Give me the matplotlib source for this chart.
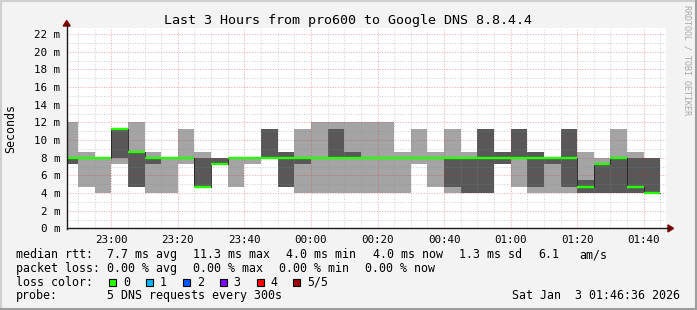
import matplotlib
matplotlib.use("Agg")
import matplotlib.pyplot as plt
from matplotlib.patches import Rectangle, Polygon
from matplotlib.lines import Line2D
from matplotlib.ticker import MultipleLocator

# ---------------- data ----------------
bin_times = ["22:45", "22:50", "22:55", "23:00", "23:05", "23:10", "23:15", "23:20", "23:25",
             "23:30", "23:35", "23:40", "23:45", "23:50", "23:55", "00:00", "00:05", "00:10",
             "00:15", "00:20", "00:25", "00:30", "00:35", "00:40", "00:45", "00:50", "00:55",
             "01:00", "01:05", "01:10", "01:15", "01:20", "01:25", "01:30", "01:35", "01:40"]
# sorted DNS rtt samples per 5 min step (ms)
ping1 = [7.3, 4.7, 4.0, 7.3, 4.7, 4.0, 4.0, 7.3, 4.7, 7.3, 4.7, 7.3, 8.0, 4.7, 4.0, 4.0, 4.0, 4.0,
         4.0, 4.0, 4.0, 7.3, 4.7, 4.0, 4.0, 4.0, 7.3, 4.7, 4.0, 4.0, 4.0, 4.0, 4.0, 4.0, 4.0, 4.0]
ping2 = [7.3, 8.0, 8.0, 8.0, 4.7, 7.3, 8.0, 8.0, 4.7, 7.3, 8.0, 8.0, 8.0, 4.7, 7.3, 8.0, 8.0, 8.0,
         8.0, 8.0, 8.0, 8.0, 8.0, 4.7, 4.0, 4.0, 7.3, 8.0, 4.7, 7.3, 4.7, 4.0, 4.0, 4.0, 4.0, 4.0]
ping3 = [8.0, 8.0, 8.0, 11.3, 8.7, 8.0, 8.0, 8.0, 4.7, 7.3, 8.0, 8.0, 8.0, 8.0, 8.0, 8.0, 8.0, 8.0,
         8.0, 8.0, 8.0, 8.0, 8.0, 8.0, 8.0, 8.0, 8.0, 8.0, 8.0, 8.0, 8.0, 4.7, 7.3, 8.0, 4.7, 4.0]
ping4 = [8.0, 8.0, 8.0, 11.3, 8.7, 8.0, 8.0, 8.0, 8.0, 8.0, 8.0, 8.0, 11.3, 8.7, 8.0, 8.0, 11.3, 8.7,
         8.0, 8.0, 8.0, 8.0, 8.0, 8.0, 8.0, 11.3, 8.7, 11.3, 8.7, 8.0, 11.3, 5.5, 7.3, 8.0, 8.0, 8.0]
ping5 = [12.0, 8.7, 8.0, 11.3, 12.0, 8.7, 8.0, 11.3, 8.7, 8.0, 8.0, 8.0, 11.3, 8.7, 11.3, 12.0, 12.0, 12.0,
         12.0, 12.0, 8.7, 11.3, 8.7, 11.3, 8.7, 11.3, 8.7, 11.3, 8.7, 8.0, 11.3, 8.7, 8.0, 11.3, 8.7, 8.0]

x_tick_labels = ["23:00", "23:20", "23:40", "00:00", "00:20", "00:40", "01:00", "01:20", "01:40"]
y_tick_values = [0, 2, 4, 6, 8, 10, 12, 14, 16, 18, 20, 22]

title = "Last 3 Hours from pro600 to Google DNS 8.8.4.4"
loss_labels = ["0", "1", "2", "3", "4", "5/5"]
loss_colors = ["#26ff00", "#00b8ff", "#0059ff", "#7e00ff", "#ff0000", "#a10000"]
rtt_stats = ["7.7 ms avg", "11.3 ms max", "4.0 ms min", "4.0 ms now", "1.3 ms sd", "6.1", "am/s"]
loss_stats = ["0.00 % avg", "0.00 % max", "0.00 % min", "0.00 % now"]
probe_text = "5 DNS requests every 300s"
stamp = "Sat Jan  3 01:46:36 2026"
step_min = 5
end_min = 106.6  # 01:46:36
span_min = 180

# ---------------- helpers ----------------
W, H = 697, 310
FONT = "DejaVu Sans Mono"
plt.rcParams["font.family"] = FONT


def tmin(s):
    h, m = map(int, s.split(":"))
    v = h * 60 + m
    return v - 1440 if h >= 12 else v


def fx(x):
    return x / W


def fy(y):
    return 1 - y / H


fig = plt.figure(figsize=(W / 100, H / 100), dpi=100, facecolor="#f3f3f3")

# frame shading
fig.add_artist(Line2D([0, 1], [fy(0.5), fy(0.5)], color="#cfcfcf", lw=1.5, transform=fig.transFigure))
fig.add_artist(Line2D([fx(0.5), fx(0.5)], [0, 1], color="#cfcfcf", lw=1.5, transform=fig.transFigure))
fig.add_artist(Line2D([0, 1], [fy(309), fy(309)], color="#9e9e9e", lw=1.5, transform=fig.transFigure))
fig.add_artist(Line2D([fx(696), fx(696)], [0, 1], color="#9e9e9e", lw=1.5, transform=fig.transFigure))

L, R, T, B = 66.7, 665.7, 28.0, 228.4
ax = fig.add_axes([fx(L), fy(B), (R - L) / W, (B - T) / H])
ax.set_facecolor("white")
for s in ax.spines.values():
    s.set_visible(False)

starts = [tmin(t) for t in bin_times]
edges = starts + [starts[-1] + step_min]


def ext(a):
    return list(a) + [a[-1]]


ax.fill_between(edges, ext(ping1), ext(ping5), step="post", color="#a4a4a4", lw=0, zorder=1)
ax.fill_between(edges, ext(ping2), ext(ping4), step="post", color="#585858", lw=0, zorder=2)
ax.step(edges, ext(ping3), where="post", color="#202020", lw=0.6, zorder=3)
ax.hlines(ping3, starts, [s + step_min for s in starts], color=loss_colors[0], lw=1.7, zorder=4)

ax.set_xlim(end_min - span_min, end_min)
ax.set_ylim(0, 22.7)

xt = [tmin(t) for t in x_tick_labels]
ax.set_xticks(xt)
ax.set_xticklabels(x_tick_labels)
ax.xaxis.set_minor_locator(MultipleLocator(step_min))
ax.set_yticks(y_tick_values)
ax.set_yticklabels([f"{v:d} m" for v in y_tick_values])
ax.yaxis.set_minor_locator(MultipleLocator(1))
ax.tick_params(which="both", length=0)
ax.tick_params(axis="x", pad=4.5, labelsize=7.8)
ax.tick_params(axis="y", pad=4.6, labelsize=7.8)

ax.grid(which="minor", color="#8c8c8c", alpha=0.4, lw=0.72, linestyle=(0, (1, 1.6)), zorder=6)
ax.grid(which="major", color="#e02828", alpha=0.4, lw=0.72, linestyle=(0, (1, 1.6)), zorder=7)
ax.set_axisbelow(False)

# axes with arrows
ac = "#1a1a1a"
fig.add_artist(Line2D([fx(L), fx(668.5)], [fy(B), fy(B)], color=ac, lw=1.0, transform=fig.transFigure))
fig.add_artist(Line2D([fx(L), fx(L)], [fy(B + 1), fy(25)], color=ac, lw=1.0, transform=fig.transFigure))
fig.add_artist(Polygon([[fx(668), fy(B - 3.5)], [fx(673.5), fy(B)], [fx(668), fy(B + 3.5)]],
                       closed=True, color="#7f0000", transform=fig.transFigure))
fig.add_artist(Polygon([[fx(L - 3.5), fy(26)], [fx(L), fy(20.5)], [fx(L + 3.5), fy(26)]],
                       closed=True, color="#7f0000", transform=fig.transFigure))

# titles
fig.text(fx(348), fy(24), title, ha="center", va="baseline", fontsize=9.6, color="black")
fig.text(fx(11), fy(B - (B - T) / 2), "Seconds", rotation=90, ha="center", va="center", fontsize=8.4)
fig.text(fx(687.5), fy(5), "RRDTOOL / TOBI OETIKER", rotation=270, ha="center", va="top",
         fontsize=6.0, color="#a8a8a8")

# legend block
FS = 8.4
rows = [258.3, 271.8, 285.6, 299.3]
fig.text(fx(16), fy(rows[0]), "median rtt:", fontsize=FS, va="baseline")
for xpos, s in zip([107.3, 193.3, 286.0, 372.7, 459.3, 538.3, 579.3], rtt_stats):
    fig.text(fx(xpos), fy(rows[0]), s, fontsize=FS, va="baseline")
fig.text(fx(16), fy(rows[1]), "packet loss:", fontsize=FS, va="baseline")
for xpos, s in zip([107.3, 193.3, 279.3, 365.0], loss_stats):
    fig.text(fx(xpos), fy(rows[1]), s, fontsize=FS, va="baseline")
fig.text(fx(16), fy(rows[2]), "loss color:", fontsize=FS, va="baseline")
box_x = [109.0, 145.7, 182.7, 219.7, 256.7, 293.3]
for bx, lab, col in zip(box_x, loss_labels, loss_colors):
    fig.add_artist(Rectangle((fx(bx), fy(286.2)), 7 / W, 7 / H, transform=fig.transFigure,
                             facecolor=col, edgecolor="black", lw=0.8))
    fig.text(fx(bx + 14), fy(rows[2]), lab, fontsize=FS, va="baseline")
fig.text(fx(16), fy(rows[3]), "probe:", fontsize=FS, va="baseline")
fig.text(fx(107.3), fy(rows[3]), probe_text, fontsize=FS, va="baseline")
fig.text(fx(680.5), fy(rows[3]), stamp, fontsize=FS, va="baseline", ha="right")

fig.savefig("out.png", dpi=100, facecolor=fig.get_facecolor())
